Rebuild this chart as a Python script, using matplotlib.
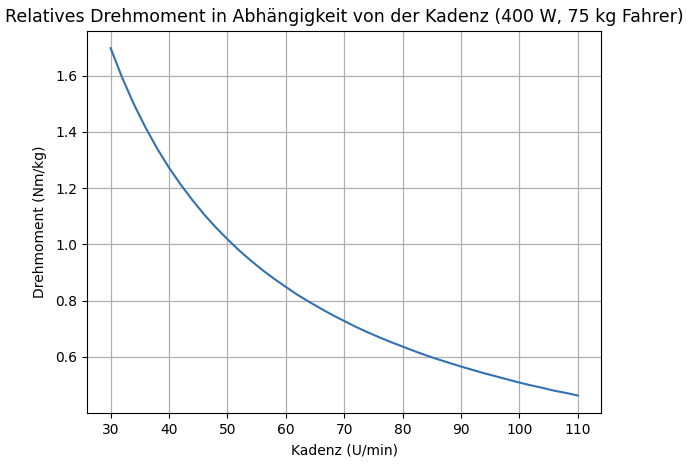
import numpy as np
import matplotlib
matplotlib.use("Agg")
import matplotlib.pyplot as plt

# Werte (Kadenz in U/min, Drehmoment in Nm/kg)
kadenz = [30, 32, 34, 36, 38, 40, 42, 44, 46, 48, 50, 52, 54, 56, 58, 60,
          62, 64, 66, 68, 70, 72, 74, 76, 78, 80, 82, 84, 86, 88, 90, 92,
          94, 96, 98, 100, 102, 104, 106, 108, 110]
drehmoment = [1.698, 1.592, 1.498, 1.415, 1.340, 1.273, 1.213, 1.158, 1.107,
              1.061, 1.019, 0.979, 0.943, 0.909, 0.878, 0.849, 0.821, 0.796,
              0.772, 0.749, 0.728, 0.707, 0.688, 0.670, 0.653, 0.637, 0.621,
              0.606, 0.592, 0.579, 0.566, 0.554, 0.542, 0.531, 0.520, 0.509,
              0.499, 0.490, 0.480, 0.472, 0.463]
xticks = [30, 40, 50, 60, 70, 80, 90, 100, 110]
yticks = [0.6, 0.8, 1.0, 1.2, 1.4, 1.6]

fig, ax = plt.subplots(figsize=(6.87, 4.66), dpi=100)
fig.subplots_adjust(left=0.127, right=0.875, top=0.934, bottom=0.114)

ax.plot(kadenz, drehmoment, color="#3171b8", linewidth=1.5)
ax.set_xticks(xticks)
ax.set_yticks(yticks)
ax.grid(True, color="#b0b0b0", linewidth=0.9)
ax.set_title("Relatives Drehmoment in Abhängigkeit von der Kadenz (400 W, 75 kg Fahrer)",
             fontsize=12.5)
ax.set_xlabel("Kadenz (U/min)", labelpad=5)
ax.set_ylabel("Drehmoment (Nm/kg)", labelpad=6)

fig.savefig("out.png", dpi=100)
